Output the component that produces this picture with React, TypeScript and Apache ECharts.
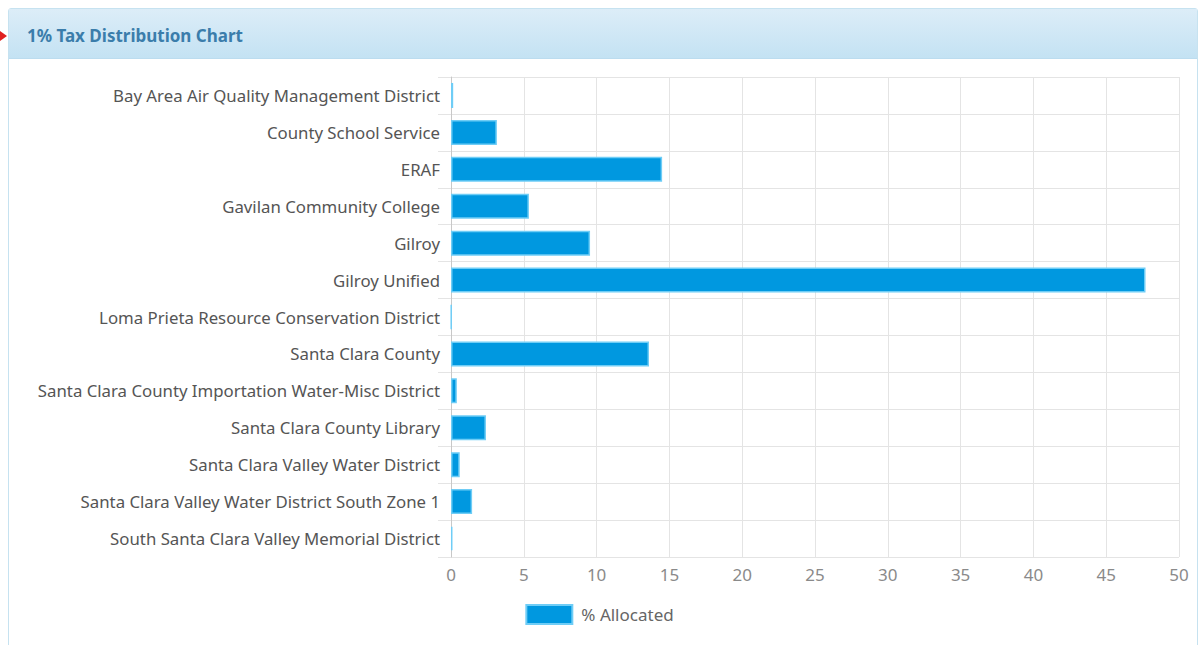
import React, { useEffect, useRef } from "react";
import * as echarts from "echarts";

const categories = [
  "Bay Area Air Quality Management District",
  "County School Service",
  "ERAF",
  "Gavilan Community College",
  "Gilroy",
  "Gilroy Unified",
  "Loma Prieta Resource Conservation District",
  "Santa Clara County",
  "Santa Clara County Importation Water-Misc District",
  "Santa Clara County Library",
  "Santa Clara Valley Water District",
  "Santa Clara Valley Water District South Zone 1",
  "South Santa Clara Valley Memorial District",
];
const allocated = [0.15, 3.15, 14.5, 5.35, 9.55, 47.7, 0.03, 13.6, 0.4, 2.4, 0.6, 1.45, 0.1];
const seriesName = "% Allocated";
const title = "1% Tax Distribution Chart";
const xMin = 0;
const xMax = 50;
const xInterval = 5;

const FONT = "'Noto Sans', 'Open Sans', sans-serif";

export default function App() {
  const ref = useRef<HTMLDivElement>(null);
  useEffect(() => {
    document.body.style.margin = "0";
    const chart = echarts.init(ref.current!, null, { renderer: "svg" });
    chart.setOption({
      animation: false,
      textStyle: { fontFamily: FONT },
      grid: { left: 451, right: 20, top: 77, bottom: 88, containLabel: false },
      legend: {
        data: [seriesName],
        left: "center",
        top: 599,
        itemWidth: 46,
        itemHeight: 19,
        icon: "rect",
        textStyle: { fontSize: 17, color: "#666", fontFamily: FONT, padding: [0, 0, 0, 4] },
      },
      xAxis: {
        type: "value",
        min: xMin,
        max: xMax,
        interval: xInterval,
        axisLine: { show: false },
        axisTick: { show: false },
        axisLabel: { fontSize: 17, color: "#8a8a8a", margin: 9, fontFamily: FONT },
        splitLine: { show: true, lineStyle: { color: "#e4e4e4", width: 1 } },
      },
      yAxis: {
        type: "category",
        data: categories,
        inverse: true,
        axisLine: { show: true, lineStyle: { color: "#c8c8c8", width: 1 } },
        axisTick: { show: true, length: 13, lineStyle: { color: "#e4e4e4" } },
        axisLabel: { fontSize: 16.8, color: "#555", margin: 11, fontFamily: FONT, padding: [0, 0, 2, 0] },
        splitLine: { show: true, lineStyle: { color: "#e4e4e4", width: 1 } },
      },
      series: [
        {
          name: seriesName,
          type: "bar",
          data: allocated,
          barWidth: 25,
          itemStyle: { color: "#0098e0", borderColor: "#6fcdf6", borderWidth: 1.5 },
        },
      ],
    });
    return () => chart.dispose();
  }, []);

  return (
    <div style={{ position: "fixed", left: 0, top: 0, width: 1199, height: 645, background: "#fff", overflow: "hidden" }}>
      <div
        style={{
          position: "absolute",
          left: 0,
          top: 31,
          width: 0,
          height: 0,
          borderTop: "5px solid transparent",
          borderBottom: "5px solid transparent",
          borderLeft: "7px solid #e02020",
        }}
      />
      <div
        style={{
          position: "absolute",
          left: 8,
          top: 8,
          width: 1188,
          height: 660,
          border: "1px solid #c6e2f0",
          borderRadius: 3,
          background: "#fff",
        }}
      >
        <div
          style={{
            height: 45,
            background: "linear-gradient(#dcedf8, #c4e2f3)",
            borderBottom: "1px solid #bcdcef",
            display: "flex",
            alignItems: "center",
            paddingLeft: 18,
            paddingTop: 4,
            fontFamily: FONT,
            fontWeight: "bold",
            fontSize: 17,
            color: "#3b7dab",
          }}
        >
          {title}
        </div>
      </div>
      <div ref={ref} style={{ position: "absolute", left: 0, top: 0, width: 1199, height: 645 }} />
    </div>
  );
}
